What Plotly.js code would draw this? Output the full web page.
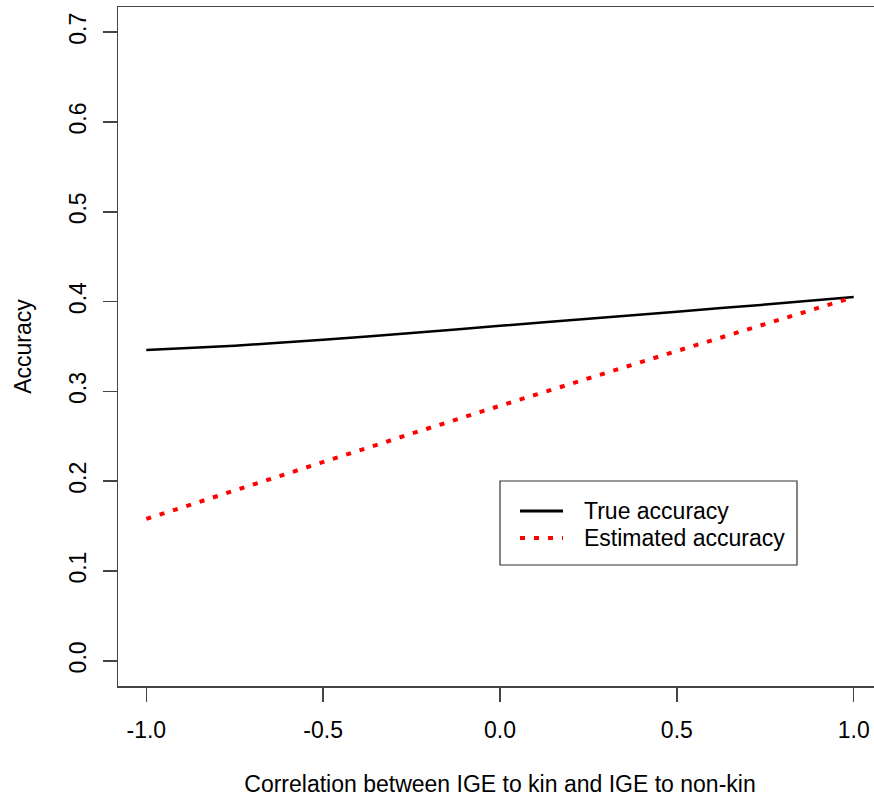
<!DOCTYPE html>
<html>
<head>
<meta charset="utf-8">
<script src="https://cdn.plot.ly/plotly-3.0.1.min.js"></script>
<style>
html,body{margin:0;padding:0;overflow:hidden;background:#fff;}
#chart{width:890px;height:797px;}
</style>
</head>
<body>
<div id="chart"></div>
<script>
const correlation = [-1.0, -0.75, -0.5, -0.25, 0.0, 0.25, 0.5, 0.75, 1.0];
const trueAccuracy = [0.346, 0.3508, 0.3575, 0.365, 0.373, 0.381, 0.3888, 0.3967, 0.405];
const estimatedAccuracy = [0.158, 0.190, 0.222, 0.253, 0.284, 0.315, 0.345, 0.375, 0.405];
const xTicks = [-1.0, -0.5, 0.0, 0.5, 1.0];
const xTickText = ["-1.0", "-0.5", "0.0", "0.5", "1.0"];
const yTicks = [0.0, 0.1, 0.2, 0.3, 0.4, 0.5, 0.6, 0.7];
const yTickText = ["0.0", "0.1", "0.2", "0.3", "0.4", "0.5", "0.6", "0.7"];
const seriesNames = ["True accuracy", "Estimated accuracy"];

const font = "Liberation Sans, Arial, sans-serif";
const axisCol = "#444";
const FS = 23;

// plot area geometry in pixels (for placing the legend box)
const L = 118, T = 7, W = 890 - 118 - 8, H = 797 - 7 - 111;
const px = v => (v - L) / W;
const py = v => (T + H - v) / H;

const traces = [
  {x: correlation, y: trueAccuracy, type: "scatter", mode: "lines", name: seriesNames[0],
   line: {color: "#000", width: 2.5, shape: "spline", smoothing: 0.5}, showlegend: false},
  {x: correlation, y: estimatedAccuracy, type: "scatter", mode: "lines", name: seriesNames[1],
   line: {color: "#ff0000", width: 4, dash: "5px,9px"}, showlegend: false}
];

const shapes = [
  {type: "rect", xref: "paper", yref: "paper", x0: px(500), x1: px(797), y0: py(565), y1: py(481),
   line: {color: "#333", width: 1.2}, fillcolor: "#fff", layer: "above"},
  {type: "line", xref: "paper", yref: "paper", x0: px(520), x1: px(563), y0: py(511), y1: py(511),
   line: {color: "#000", width: 3}, layer: "above"},
  {type: "line", xref: "paper", yref: "paper", x0: px(520), x1: px(563), y0: py(538), y1: py(538),
   line: {color: "#ff0000", width: 4, dash: "5px,9px"}, layer: "above"}
];

const annotations = [
  {xref: "paper", yref: "paper", x: px(582), y: py(511), xanchor: "left", yanchor: "middle",
   text: seriesNames[0], showarrow: false, font: {family: font, size: FS, color: "#000"}},
  {xref: "paper", yref: "paper", x: px(582), y: py(538), xanchor: "left", yanchor: "middle",
   text: seriesNames[1], showarrow: false, font: {family: font, size: FS, color: "#000"}}
];

const layout = {
  width: 890, height: 797,
  margin: {l: 118, r: 8, t: 7, b: 111},
  paper_bgcolor: "#fff", plot_bgcolor: "#fff",
  font: {family: font, size: FS, color: "#000"},
  showlegend: false,
  shapes: shapes,
  annotations: annotations,
  xaxis: {
    range: [-1.08, 1.08], tickvals: xTicks, ticktext: xTickText,
    showgrid: false, zeroline: false, showline: true, mirror: true,
    linecolor: axisCol, linewidth: 1.5, ticks: "outside", ticklen: 14, tickwidth: 1.5, tickcolor: axisCol,
    ticklabelstandoff: 9,
    title: {text: "Correlation between IGE to kin and IGE to non-kin", font: {family: font, size: FS}, standoff: 36}
  },
  yaxis: {
    range: [-0.028, 0.728], tickvals: yTicks, ticktext: yTickText, tickangle: -90,
    showgrid: false, zeroline: false, showline: true, mirror: true,
    linecolor: axisCol, linewidth: 1.5, ticks: "outside", ticklen: 14, tickwidth: 1.5, tickcolor: axisCol,
    ticklabelstandoff: 7,
    title: {text: "Accuracy", font: {family: font, size: FS}, standoff: 27}
  }
};

Plotly.newPlot("chart", traces, layout, {displayModeBar: false, staticPlot: true});
</script>
</body>
</html>
